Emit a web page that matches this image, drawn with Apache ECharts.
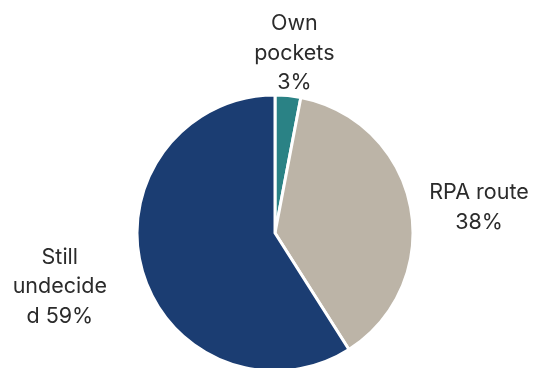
<!DOCTYPE html>
<html>
<head>
<meta charset="utf-8">
<script src="https://cdn.jsdelivr.net/npm/echarts@6/dist/echarts.min.js"></script>
<style>
  html, body { margin: 0; padding: 0; background: #fff; }
  #pieChart { width: 541px; height: 368px; }
</style>
</head>
<body>
<div id="pieChart"></div>
<script>
const categories = ['Own pockets', 'RPA route', 'Still undecided']
const shares = [3, 38, 59]
// label text as wrapped in the original
const labelText = ['Own\npockets\n3%', 'RPA route\n38%', 'Still\nundecide\nd 59%']
const colors = ['#2a8285', '#bcb4a7', '#1b3d72']

const cx = 275
const cy = 233
const R = 138
const labelGap = [4, 19, 37]
const labelShiftX = [6, 0, 0]
const labelShiftY = [6, 4, 5]

const total = shares.reduce((a, b) => a + b, 0)

const chart = echarts.init(document.getElementById('pieChart'), null, { renderer: 'canvas' })

chart.setOption({
  animation: false,
  textStyle: {
    fontFamily: 'Inter, sans-serif',
  },
  series: [ {
    type: 'pie',
    silent: true,
    center: [ cx, cy ],
    radius: R,
    startAngle: 90,
    clockwise: true,
    itemStyle: {
      borderColor: '#fff',
      borderWidth: 3,
    },
    label: {
      show: true,
      position: 'outside',
      overflow: 'none',
      alignTo: 'none',
      color: '#2b2b2b',
      fontSize: 21.5,
      lineHeight: 29.5,
      fontFamily: 'Inter, sans-serif',
      formatter: (p) => labelText[p.dataIndex],
    },
    labelLine: { show: false },
    labelLayout: (p) => {
      const i = p.dataIndex
      let before = 0
      for (let j = 0; j < i; j++) before += shares[j]
      const mid = (before + shares[i] / 2) / total * Math.PI * 2
      const s = Math.sin(mid)
      const c = Math.cos(mid)
      let x = cx + (R + labelGap[i]) * s
      let y = cy - (R + labelGap[i]) * c
      const w = p.labelRect.width
      const h = p.labelRect.height
      if (Math.abs(s) > 0.3) x += Math.sign(s) * w / 2
      if (c > 0.7) y -= h / 2
      else if (c < -0.7) y += h / 2
      return {
        x: x + labelShiftX[i],
        y: y + labelShiftY[i],
        align: 'center',
        verticalAlign: 'middle',
      }
    },
    data: categories.map((name, i) => ({
      name,
      value: shares[i],
      itemStyle: { color: colors[i] },
    })),
  } ],
})
</script>
</body>
</html>
